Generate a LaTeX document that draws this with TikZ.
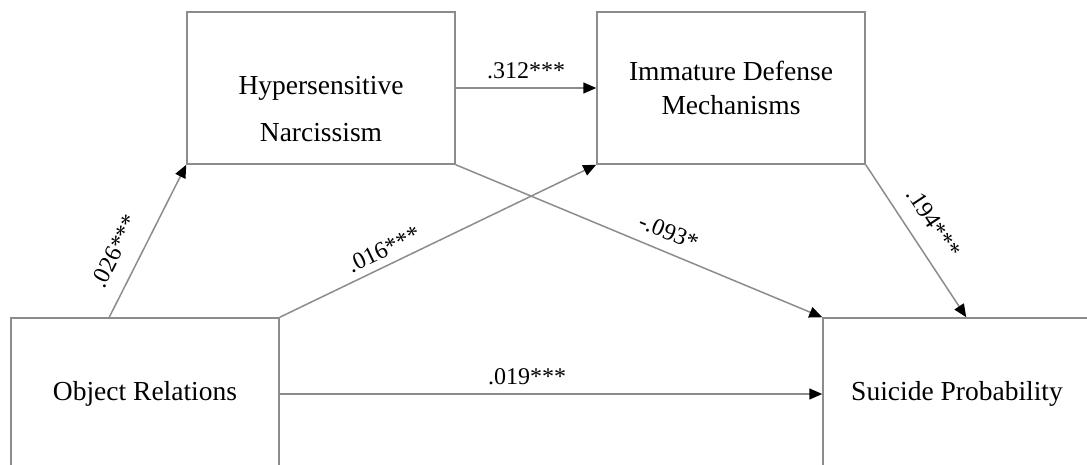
\documentclass[tikz,border=0pt]{standalone}
\usepackage{fontspec}
\setmainfont{Liberation Serif}
\usepackage{color}
\usetikzlibrary{arrows.meta, calc}
\definecolor{linegray}{HTML}{8C8C8C}

\begin{document}
\begin{tikzpicture}[x=0.5pt, y=-0.5pt,
  box/.style={draw=linegray, line width=0.75pt, minimum width=134pt, minimum height=76pt, inner sep=0pt, align=center, font=\fontsize{13.75}{17}\selectfont},
  link/.style={draw=linegray, line width=0.75pt, -{Triangle[length=6.5pt, width=5.5pt, color=black]}},
  coef/.style={font=\fontsize{12}{14}\selectfont, inner sep=2pt}]
\useasboundingbox (0,0) rectangle (1087,465);
\clip (0,0) rectangle (1087,465);

% variables
\node[box] (HN)  at (321,88)  {\rule{0pt}{30.5pt}Hypersensitive\\[6.5pt]Narcissism};
\node[box] (IDM) at (731,88)  {Immature Defense\\Mechanisms};
\node[box] (OR)  at (145,394) {Object Relations};
\node[box] (SP)  at (957,394) {Suicide Probability};

% paths
\draw[link] ($(OR.north west)+(99,0)$) -- node[coef, sloped, above=6pt, pos=0.36] {.026***} (HN.south west);
\draw[link] (OR.north east) -- node[coef, sloped, above=1.5pt, pos=0.35] {.016***} (IDM.south west);
\draw[link] (HN.east) -- node[coef, above=2pt] {.312***} (IDM.west);
\draw[link] (HN.south east) -- node[coef, sloped, above=3.5pt, pos=0.56] {-.093*} (SP.north west);
\draw[link] (IDM.south east) -- node[coef, sloped, above=6pt, pos=0.47] {.194***} ($(SP.north west)+(144,0)$);
\draw[link] (OR.east) -- node[coef, above=2pt, pos=0.456] {.019***} (SP.west);
\end{tikzpicture}
\end{document}
